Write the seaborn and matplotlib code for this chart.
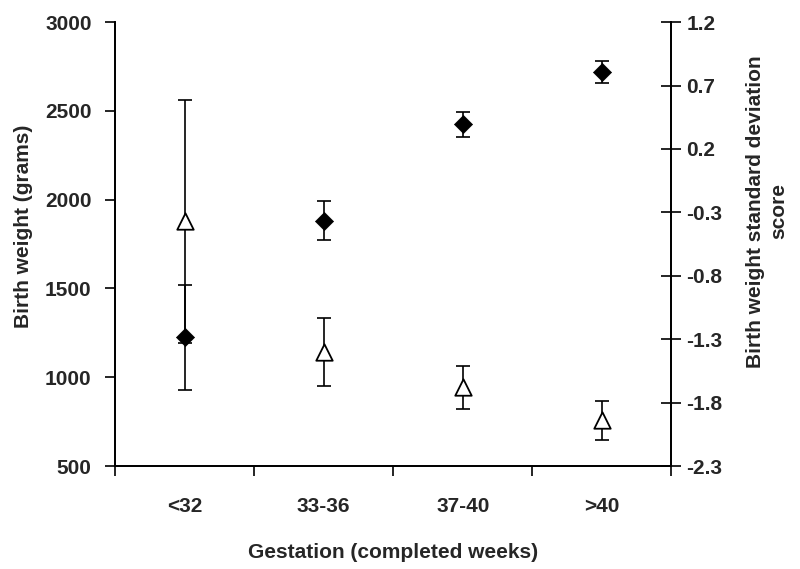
import matplotlib
matplotlib.use('Agg')
import matplotlib.pyplot as plt
import seaborn as sns
import pandas as pd

# values
categories = ['<32', '33-36', '37-40', '>40']
weight = [1224, 1882, 2424, 2718]          # birth weight (g), left axis
weight_err = [297, 108, 68, 62]
sds = [-0.37, -1.40, -1.68, -1.94]         # standard deviation score, right axis
sds_err = [0.96, 0.27, 0.17, 0.155]

sns.set_style('white')
plt.rcParams['font.family'] = ['Liberation Sans', 'DejaVu Sans']
plt.rcParams['font.weight'] = 'bold'
plt.rcParams['axes.unicode_minus'] = False

df = pd.DataFrame({'gestation': categories, 'weight': weight, 'sds': sds})

fig = plt.figure(figsize=(8, 5.69), dpi=100)
ax = fig.add_axes([0.144, 0.181, 0.695, 0.780])
ax2 = ax.twinx()

# birth weight: black diamonds
ax.errorbar(df['gestation'], df['weight'], yerr=weight_err, fmt='none',
            ecolor='black', elinewidth=1.2, capsize=5, capthick=1.2, zorder=2)
sns.scatterplot(data=df, x='gestation', y='weight', marker='D', s=85,
                color='black', edgecolor='black', linewidth=0.5, ax=ax, zorder=3)

# SDS: open triangles
ax2.errorbar(df['gestation'], df['sds'], yerr=sds_err, fmt='none',
             ecolor='black', elinewidth=1.2, capsize=5, capthick=1.2, zorder=2)
sns.scatterplot(data=df, x='gestation', y='sds', marker='^', s=140,
                color='white', edgecolor='black', linewidth=1.3, ax=ax2, zorder=3)

ax.set_xlim(-0.5, 3.5)
ax.set_ylim(500, 3000)
ax.set_yticks(range(500, 3001, 500))
ax2.set_ylim(-2.3, 1.2)
ax2.set_yticks([1.2, 0.7, 0.2, -0.3, -0.8, -1.3, -1.8, -2.3])
ax2.set_yticklabels(['1.2', '0.7', '0.2', '-0.3', '-0.8', '-1.3', '-1.8', '-2.3'])

# category labels centred, tick marks on the boundaries
ax.set_xticks(range(len(categories)))
ax.set_xticklabels(categories)
ax.set_xticks([-0.5, 0.5, 1.5, 2.5, 3.5], minor=True)
ax.tick_params(axis='x', which='major', length=0, pad=22, labelsize=15)
ax.tick_params(axis='x', which='minor', direction='out', length=7, width=1.2,
               bottom=True, color='black')
ax.tick_params(axis='y', direction='out', length=7, width=1.2, left=True,
               pad=10, labelsize=15, color='black')
ax2.tick_params(axis='y', direction='inout', length=14, width=1.2, right=True,
                pad=4, labelsize=15, color='black')

for a in (ax, ax2):
    a.spines['top'].set_visible(False)
    for s in ('left', 'right', 'bottom'):
        a.spines[s].set_color('black')
        a.spines[s].set_linewidth(1.3)
    a.grid(False)

ax.set_xlabel('Gestation (completed weeks)', fontsize=15, fontweight='bold', labelpad=20)
ax.set_ylabel('Birth weight (grams)', fontsize=15, fontweight='bold')
ax.yaxis.set_label_coords(-0.147, 0.54)
ax2.set_ylabel('Birth weight standard deviation\nscore', fontsize=15,
               fontweight='bold', linespacing=1.3, va='center', ha='center')
ax2.yaxis.set_label_coords(1.173, 0.574)

fig.savefig('out.png', dpi=100)
